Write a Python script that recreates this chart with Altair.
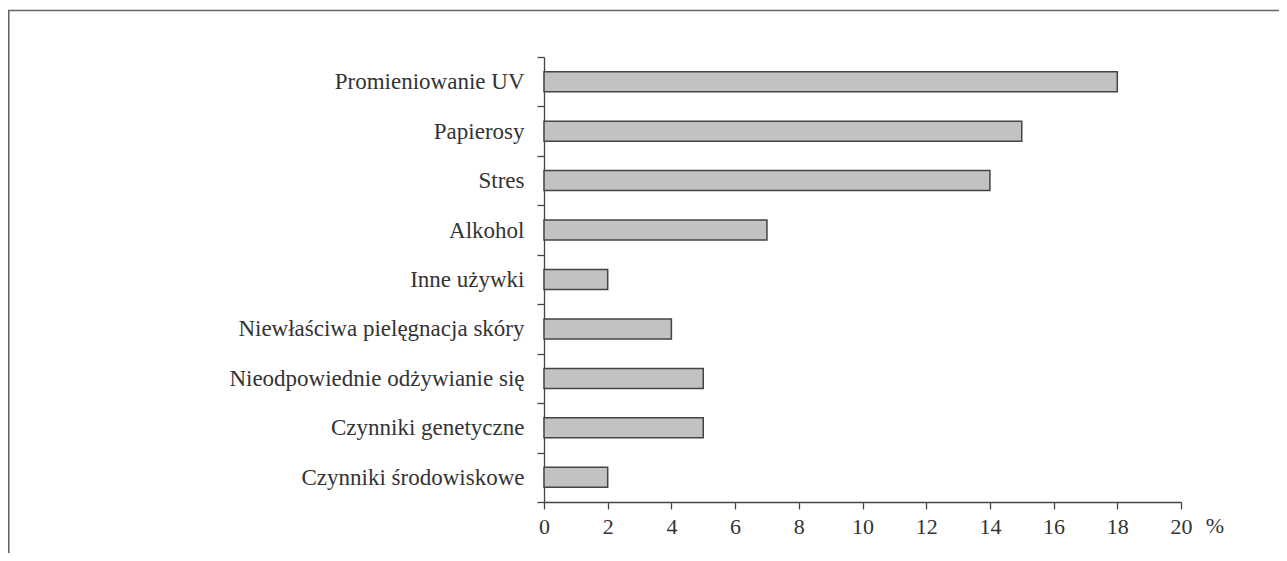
import altair as alt
import pandas as pd

categories = [
    "Promieniowanie UV",
    "Papierosy",
    "Stres",
    "Alkohol",
    "Inne używki",
    "Niewłaściwa pielęgnacja skóry",
    "Nieodpowiednie odżywianie się",
    "Czynniki genetyczne",
    "Czynniki środowiskowe",
]
values = [18, 15, 14, 7, 2, 4, 5, 5, 2]
x_ticks = [0, 2, 4, 6, 8, 10, 12, 14, 16, 18, 20]
unit_label = "%"

df = pd.DataFrame({"cat": categories, "val": values})

W, H = 637, 445
FONT = "Liberation Serif"
FS = 22
TXT = "#333333"
LINE = "#444444"

xscale = alt.Scale(domain=[0, 20], nice=False)

bars = alt.Chart(df).mark_bar(
    fill="#c2c2c2", stroke=LINE, strokeWidth=1.5, height=alt.RelativeBandSize(0.405)
).encode(
    y=alt.Y(
        "cat:N",
        sort=categories,
        scale=alt.Scale(paddingInner=0, paddingOuter=0),
        axis=alt.Axis(
            title=None,
            tickBand="extent",
            labelFont=FONT,
            labelFontSize=23,
            labelColor=TXT,
            labelPadding=13,
            labelLimit=500,
            tickSize=7,
            tickColor=LINE,
            tickWidth=1.3,
            domainColor=LINE,
            domainWidth=1.3,
        ),
    ),
    x=alt.X(
        "val:Q",
        scale=xscale,
        axis=alt.Axis(
            title=None,
            values=x_ticks,
            grid=False,
            labelFont=FONT,
            labelFontSize=FS,
            labelColor=TXT,
            labelPadding=7,
            tickSize=7,
            tickColor=LINE,
            tickWidth=1.3,
            domainColor=LINE,
            domainWidth=1.3,
            labelFlush=False,
        ),
    ),
)

pct = alt.Chart(pd.DataFrame({"t": [unit_label], "x": [20]})).mark_text(
    dx=34, align="center", baseline="top", font=FONT, fontSize=FS, color=TXT
).encode(x=alt.X("x:Q", scale=xscale), y=alt.value(H + 14), text="t:N")

one = pd.DataFrame({"a": [0]})
frame_top = alt.Chart(one).mark_rule(color="#666666", strokeWidth=1.6).encode(
    x=alt.value(-536), x2=alt.value(W + 98), y=alt.value(-46.5)
)
frame_left = alt.Chart(one).mark_rule(color="#666666", strokeWidth=1.6).encode(
    x=alt.value(-535.2), y=alt.value(-47), y2=alt.value(H + 51)
)

chart = (
    alt.layer(frame_top, frame_left, bars, pct)
    .properties(
        width=W,
        height=H,
        autosize=alt.AutoSizeParams(type="none"),
        padding={"left": 536, "top": 49, "right": 98, "bottom": 51},
    )
    .configure_view(stroke=None)
)

chart.save("out.html", embed_options={"renderer": "svg", "actions": False})
